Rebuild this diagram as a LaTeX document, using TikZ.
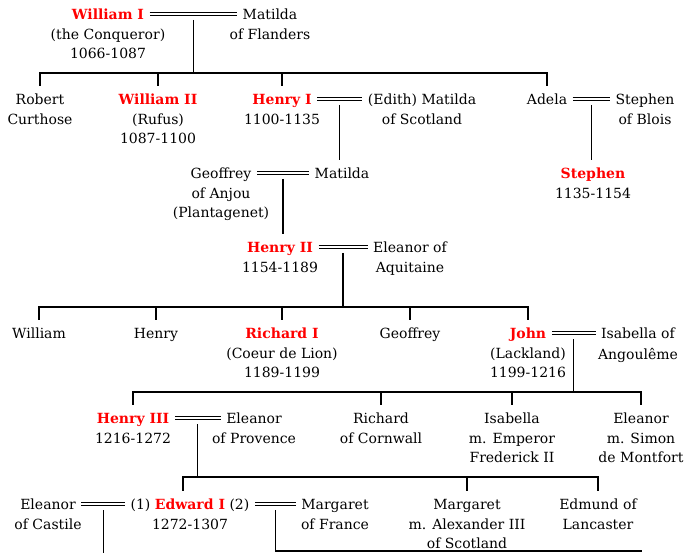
\documentclass[tikz,border=0pt]{standalone}
\usepackage{fontspec}
\setmainfont{DejaVu Serif}
\usepackage{tikz}
\usetikzlibrary{positioning}
\newcommand{\treefont}{\fontsize{14}{19}\selectfont}
\tikzset{font=\treefont}
\tikzset{every node/.append style={inner xsep=5pt,inner ysep=7.5pt}}
\tikzset{person/.style={text height=10.2pt,text depth=0pt}}
\tikzset{king/.style={person,text=red,font=\treefont\bfseries}}
\tikzset{rest/.style={inner sep=0pt,align=center}}
\tikzset{wed/.style={double,double distance=1.2pt,line width=1.2pt}}

\begin{document}
\begin{tikzpicture}[x=1pt,y=-1pt,line width=1.3pt]
\useasboundingbox (0,0) rectangle (685,553);
% William I
\node[king] (wi) at (108,14) {William I};
\node[rest,below=1.1pt of wi] (wix) {(the Conqueror)\\1066-1087};
\node[person] (mf) at (270,14) {Matilda};
\node[rest,below=1.1pt of mf] (mfx) {of Flanders};
\draw[wed] (wi) -- coordinate (wim) (mf);
% his children
\coordinate (bar1) at (0,73);
\node[person] (rc) at (40,99) {Robert};
\node[rest,below=1.1pt of rc] (rcx) {Curthose};
\node[king] (wii) at (158,99) {William II};
\node[rest,below=1.1pt of wii] (wiix) {(Rufus)\\1087-1100};
\node[king] (hi) at (282,99) {Henry I};
\node[rest,below=1.1pt of hi] (hix) {1100-1135};
\node[person] (em) at (422,99) {(Edith) Matilda};
\node[rest,below=1.1pt of em] (emx) {of Scotland};
\node[person] (ad) at (547,99) {Adela};
\node[person] (sb) at (645,99) {Stephen};
\node[rest,below=1.1pt of sb] (sbx) {of Blois};
\draw ([yshift=-6pt]wim) -- (wim |- bar1);
\draw (rc.north) |- (ad.north |- bar1) -- (ad.north);
\draw (wii.north) -- (wii.north |- bar1);
\draw (hi.north) -- (hi.north |- bar1);
\draw[wed] (hi) -- coordinate (him) (em);
\draw[wed] (ad) -- coordinate (adm) (sb);
% Matilda and Stephen
\node[person] (gf) at (221,173) {Geoffrey};
\node[rest,below=1.1pt of gf] (gfx) {of Anjou\\(Plantagenet)};
\node[person] (ma) at (342,173) {Matilda};
\node[king] (st) at (593,173) {Stephen};
\node[rest,below=1.1pt of st] (stx) {1135-1154};
\draw ([yshift=-6pt]him) -- (him |- ma.north);
\draw ([yshift=-6pt]adm) -- (adm |- st.north);
\draw[wed] (gf) -- coordinate (gfm) (ma);
% Henry II
\node[king] (hii) at (280,247) {Henry II};
\node[rest,below=1.1pt of hii] (hiix) {1154-1189};
\node[person] (ea) at (410,247) {Eleanor of};
\node[rest,below=1.1pt of ea] (eax) {Aquitaine};
\draw ([yshift=-6pt]gfm) -- (gfm |- hii.north);
\draw[wed] (hii) -- coordinate (hiim) (ea);
% his children
\coordinate (bar4) at (0,307);
\node[person] (wm) at (39,333) {William};
\node[person] (hy) at (156,333) {Henry};
\node[king] (ri) at (282,333) {Richard I};
\node[rest,below=1.1pt of ri] (rix) {(Coeur de Lion)\\1189-1199};
\node[person] (gy) at (410,333) {Geoffrey};
\node[king] (jo) at (528,333) {John};
\node[rest,below=1.1pt of jo] (jox) {(Lackland)\\1199-1216};
\node[person] (ia) at (638,333) {Isabella of};
\node[rest,below=1.1pt of ia] (iax) {Angoulême};
\draw ([yshift=-6pt]hiim) -- (hiim |- bar4);
\draw (wm.north) |- (jo.north |- bar4) -- (jo.north);
\draw (hy.north) -- (hy.north |- bar4);
\draw (ri.north) -- (ri.north |- bar4);
\draw (gy.north) -- (gy.north |- bar4);
\draw[wed] (jo) -- coordinate (jom) (ia);
% John's children
\coordinate (bar5) at (0,392);
\node[king] (hiii) at (133,418) {Henry III};
\node[rest,below=1.1pt of hiii] (hiiix) {1216-1272};
\node[person] (ep) at (254,418) {Eleanor};
\node[rest,below=1.1pt of ep] (epx) {of Provence};
\node[person] (rcw) at (381,418) {Richard};
\node[rest,below=1.1pt of rcw] (rcwx) {of Cornwall};
\node[person] (isb) at (512,418) {Isabella};
\node[rest,below=1.1pt of isb] (isbx) {m. Emperor\\Frederick II};
\node[person] (esm) at (641,418) {Eleanor};
\node[rest,below=1.1pt of esm] (esmx) {m. Simon\\de Montfort};
\draw ([yshift=-6pt]jom) -- (jom |- bar5);
\draw (hiii.north) |- (esm.north |- bar5) -- (esm.north);
\draw (rcw.north) -- (rcw.north |- bar5);
\draw (isb.north) -- (isb.north |- bar5);
\draw[wed] (hiii) -- coordinate (hiiim) (ep);
% Henry III's children
\coordinate (bar6) at (0,477);
\node[person] (ec) at (48,504) {Eleanor};
\node[rest,below=1.1pt of ec] (ecx) {of Castile};
\node[person] (ed) at (190,504) {(1)~\textcolor{red}{\bfseries Edward I}~(2)};
\node[rest,below=1.1pt of ed] (edx) {1272-1307};
\node[person] (mfr) at (335,504) {Margaret};
\node[rest,below=1.1pt of mfr] (mfrx) {of France};
\node[person] (mas) at (467,504) {Margaret};
\node[rest,below=1.1pt of mas] (masx) {m. Alexander III\\of Scotland};
\node[person] (edm) at (598,504) {Edmund of};
\node[rest,below=1.1pt of edm] (edmx) {Lancaster};
\draw ([yshift=-6pt]hiiim) -- (hiiim |- bar6);
\draw ([xshift=-7pt]ed.north) |- (edm.north |- bar6) -- (edm.north);
\draw (mas.north) -- (mas.north |- bar6);
\draw[wed] (ec) -- coordinate (ecm) (ed);
\draw[wed] (ed) -- coordinate (mfm) (mfr);
% lines running on
\coordinate (low) at (0,553);
\coordinate (edge) at (642,551);
\draw ([yshift=-6pt]ecm) -- (ecm |- low);
\draw ([yshift=-6pt]mfm) |- (edge);
\end{tikzpicture}
\end{document}
